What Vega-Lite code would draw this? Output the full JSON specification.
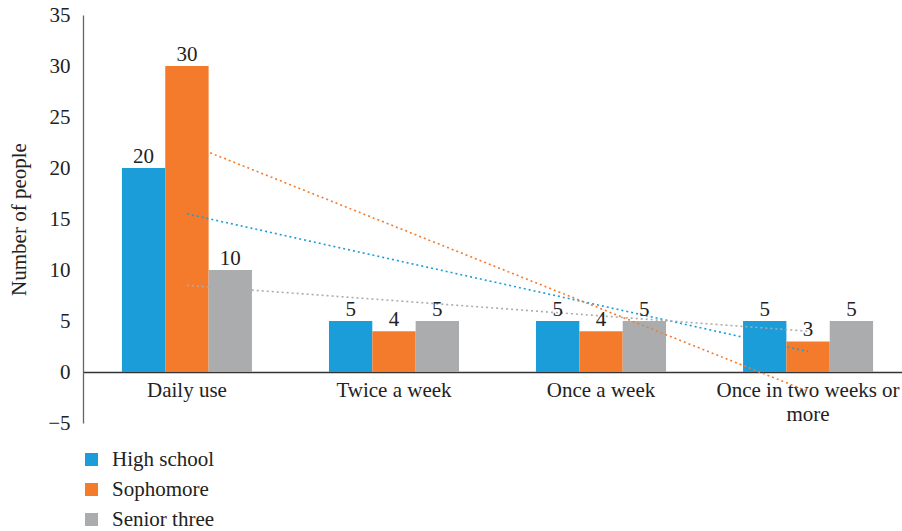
{
  "$schema": "https://vega.github.io/schema/vega-lite/v6.json",
  "autosize": {"type": "none"},
  "padding": {"left": 83, "top": 15, "right": 0, "bottom": 108},
  "width": 819,
  "height": 408,
  "background": "white",
  "config": {
    "view": {"stroke": null},
    "font": "Liberation Serif",
    "text": {"font": "Liberation Serif"}
  },
  "datasets": {
    "bars": [
      {"category": "Daily use", "group": "High school", "value": 20},
      {"category": "Daily use", "group": "Sophomore", "value": 30},
      {"category": "Daily use", "group": "Senior three", "value": 10},
      {"category": "Twice a week", "group": "High school", "value": 5},
      {"category": "Twice a week", "group": "Sophomore", "value": 4},
      {"category": "Twice a week", "group": "Senior three", "value": 5},
      {"category": "Once a week", "group": "High school", "value": 5},
      {"category": "Once a week", "group": "Sophomore", "value": 4},
      {"category": "Once a week", "group": "Senior three", "value": 5},
      {"category": "Once in two weeks or more", "group": "High school", "value": 5},
      {"category": "Once in two weeks or more", "group": "Sophomore", "value": 3},
      {"category": "Once in two weeks or more", "group": "Senior three", "value": 5}
    ],
    "trend": [
      {"category": "Daily use", "group": "High school", "value": 15.5},
      {"category": "Once in two weeks or more", "group": "High school", "value": 2},
      {"category": "Daily use", "group": "Sophomore", "value": 22.4},
      {"category": "Once in two weeks or more", "group": "Sophomore", "value": -1.9},
      {"category": "Daily use", "group": "Senior three", "value": 8.5},
      {"category": "Once in two weeks or more", "group": "Senior three", "value": 4}
    ]
  },
  "layer": [
    {
      "data": {"name": "bars"},
      "mark": {"type": "bar"},
      "encoding": {
        "x": {
          "field": "category", "type": "nominal",
          "scale": {
            "domain": ["Daily use", "Twice a week", "Once a week", "Once in two weeks or more"],
            "range": [0, 829],
            "paddingInner": 0.372,
            "paddingOuter": 0.188
          },
          "axis": {
            "title": null,
            "offset": -51,
            "domainColor": "#333333",
            "domainWidth": 1.3,
            "ticks": false,
            "labelAngle": 0,
            "labelFont": "Liberation Serif",
            "labelFontSize": 21,
            "labelColor": "#222222",
            "labelPadding": 7,
            "labelLineHeight": 24,
            "labelLimit": 400,
            "labelExpr": "datum.label == 'Once in two weeks or more' ? ['Once in two weeks or', 'more'] : datum.label"
          }
        },
        "xOffset": {
          "field": "group", "type": "nominal",
          "scale": {"domain": ["High school", "Sophomore", "Senior three"], "paddingInner": 0, "paddingOuter": 0}
        },
        "y": {
          "field": "value", "type": "quantitative",
          "scale": {"domain": [-5, 35], "nice": false, "zero": false},
          "axis": {
            "title": "Number of people",
            "titleFont": "Liberation Serif",
            "titleFontSize": 21,
            "titleFontWeight": "normal",
            "titleColor": "#222222",
            "titlePadding": 18,
            "values": [-5, 0, 5, 10, 15, 20, 25, 30, 35],
            "grid": false,
            "ticks": false,
            "domainColor": "#666666",
            "domainWidth": 1.3,
            "labelFont": "Liberation Serif",
            "labelFontSize": 21,
            "labelColor": "#222222",
            "labelPadding": 13
          }
        },
        "y2": {"datum": 0},
        "color": {
          "field": "group", "type": "nominal",
          "scale": {"domain": ["High school", "Sophomore", "Senior three"], "range": ["#1B9DD9", "#F47B2C", "#ABACAE"]},
          "legend": {
            "title": null,
            "orient": "none",
            "direction": "vertical",
            "legendX": -2,
            "legendY": 434,
            "symbolType": "square",
            "symbolSize": 170,
            "symbolStrokeWidth": 0,
            "labelFont": "Liberation Serif",
            "labelFontSize": 21,
            "labelColor": "#222222",
            "labelOffset": 10,
            "rowPadding": 8
          }
        }
      }
    },
    {
      "data": {"name": "trend"},
      "mark": {"type": "line", "strokeDash": [2, 3], "strokeWidth": 1.6},
      "encoding": {
        "x": {"field": "category", "type": "nominal"},
        "y": {"field": "value", "type": "quantitative"},
        "detail": {"field": "group"},
        "color": {"field": "group", "type": "nominal"}
      }
    },
    {
      "data": {"name": "bars"},
      "mark": {"type": "text", "baseline": "bottom", "dy": -1, "fontSize": 21, "font": "Liberation Serif", "color": "#222222"},
      "encoding": {
        "x": {"field": "category", "type": "nominal"},
        "xOffset": {"field": "group", "type": "nominal"},
        "y": {"field": "value", "type": "quantitative"},
        "text": {"field": "value", "type": "quantitative"}
      }
    }
  ]
}
